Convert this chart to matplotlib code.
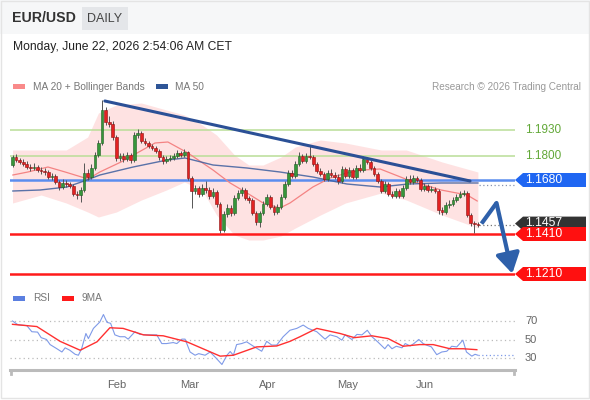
import matplotlib
matplotlib.use("Agg")
import matplotlib.pyplot as plt
import matplotlib.transforms as mtransforms
from matplotlib.patches import Rectangle, Polygon
import numpy as np

plt.rcParams['font.family'] = ['Liberation Sans', 'DejaVu Sans']

# ---------------- data ----------------
first_open = 1.1755
closes = [1.1795, 1.1780, 1.1770, 1.1760, 1.1745, 1.1740, 1.1745, 1.1730, 1.1725, 1.1720,
          1.1695, 1.1700, 1.1670, 1.1645, 1.1665, 1.1660, 1.1650, 1.1610, 1.1605, 1.1630,
          1.1715, 1.1695, 1.1740, 1.1805, 1.1865, 1.2030, 1.1970, 1.1960, 1.1895, 1.1790,
          1.1800, 1.1785, 1.1805, 1.1780, 1.1905, 1.1915, 1.1875, 1.1865, 1.1850, 1.1840,
          1.1825, 1.1795, 1.1775, 1.1785, 1.1790, 1.1800, 1.1815, 1.1805, 1.1820, 1.1690,
          1.1625, 1.1640, 1.1610, 1.1640, 1.1630, 1.1600, 1.1620, 1.1560, 1.1430, 1.1510,
          1.1540, 1.1515, 1.1590, 1.1615, 1.1630, 1.1590, 1.1580, 1.1515, 1.1470, 1.1515,
          1.1560, 1.1595, 1.1545, 1.1520, 1.1545, 1.1595, 1.1660, 1.1715, 1.1700, 1.1760,
          1.1800, 1.1775, 1.1800, 1.1795, 1.1760, 1.1725, 1.1710, 1.1685, 1.1715, 1.1705,
          1.1695, 1.1675, 1.1735, 1.1700, 1.1730, 1.1695, 1.1740, 1.1730, 1.1785, 1.1770,
          1.1740, 1.1710, 1.1675, 1.1625, 1.1660, 1.1610, 1.1600, 1.1625, 1.1600, 1.1640,
          1.1685, 1.1670, 1.1690, 1.1680, 1.1635, 1.1650, 1.1630, 1.1635, 1.1625, 1.1530,
          1.1520, 1.1555, 1.1560, 1.1580, 1.1595, 1.1610, 1.1615, 1.1505, 1.1465, 1.1460,
          1.1457]
highs = [1.1805, 1.1810, 1.1790, 1.1785, 1.1775, 1.1760, 1.1765, 1.1755, 1.1745, 1.1740,
         1.1730, 1.1715, 1.1710, 1.1680, 1.1685, 1.1680, 1.1670, 1.1660, 1.1625, 1.1645,
         1.1765, 1.1735, 1.1760, 1.1820, 1.1880, 1.2080, 1.2045, 1.2000, 1.1975, 1.1905,
         1.1815, 1.1815, 1.1820, 1.1815, 1.1920, 1.1935, 1.1925, 1.1890, 1.1875, 1.1860,
         1.1850, 1.1835, 1.1805, 1.1800, 1.1805, 1.1815, 1.1830, 1.1825, 1.1835, 1.1825,
         1.1700, 1.1655, 1.1650, 1.1660, 1.1675, 1.1645, 1.1640, 1.1630, 1.1570, 1.1525,
         1.1560, 1.1555, 1.1605, 1.1630, 1.1645, 1.1640, 1.1600, 1.1590, 1.1525, 1.1525,
         1.1575, 1.1610, 1.1605, 1.1555, 1.1560, 1.1610, 1.1675, 1.1730, 1.1730, 1.1775,
         1.1820, 1.1810, 1.1815, 1.1850, 1.1805, 1.1770, 1.1740, 1.1720, 1.1730, 1.1735,
         1.1720, 1.1710, 1.1750, 1.1745, 1.1745, 1.1740, 1.1755, 1.1760, 1.1800, 1.1795,
         1.1780, 1.1750, 1.1720, 1.1685, 1.1675, 1.1670, 1.1625, 1.1640, 1.1635, 1.1655,
         1.1700, 1.1705, 1.1705, 1.1700, 1.1690, 1.1665, 1.1660, 1.1650, 1.1645, 1.1635,
         1.1545, 1.1570, 1.1580, 1.1595, 1.1610, 1.1625, 1.1630, 1.1625, 1.1515, 1.1475,
         1.1470]
lows = [1.1745, 1.1770, 1.1760, 1.1750, 1.1735, 1.1725, 1.1730, 1.1720, 1.1710, 1.1705,
        1.1685, 1.1680, 1.1660, 1.1630, 1.1635, 1.1645, 1.1640, 1.1600, 1.1585, 1.1570,
        1.1620, 1.1680, 1.1685, 1.1730, 1.1795, 1.1855, 1.1955, 1.1945, 1.1880, 1.1775,
        1.1775, 1.1770, 1.1775, 1.1765, 1.1770, 1.1890, 1.1865, 1.1855, 1.1840, 1.1830,
        1.1815, 1.1780, 1.1760, 1.1765, 1.1775, 1.1780, 1.1790, 1.1795, 1.1795, 1.1680,
        1.1540, 1.1610, 1.1595, 1.1600, 1.1615, 1.1585, 1.1590, 1.1545, 1.1415, 1.1420,
        1.1495, 1.1500, 1.1505, 1.1580, 1.1600, 1.1580, 1.1565, 1.1505, 1.1455, 1.1445,
        1.1505, 1.1550, 1.1535, 1.1505, 1.1510, 1.1535, 1.1585, 1.1650, 1.1690, 1.1690,
        1.1750, 1.1765, 1.1765, 1.1785, 1.1750, 1.1715, 1.1700, 1.1675, 1.1675, 1.1695,
        1.1685, 1.1660, 1.1665, 1.1690, 1.1690, 1.1685, 1.1685, 1.1720, 1.1720, 1.1760,
        1.1730, 1.1700, 1.1665, 1.1615, 1.1615, 1.1600, 1.1590, 1.1590, 1.1590, 1.1590,
        1.1630, 1.1660, 1.1660, 1.1670, 1.1625, 1.1625, 1.1620, 1.1620, 1.1615, 1.1510,
        1.1505, 1.1510, 1.1540, 1.1550, 1.1570, 1.1590, 1.1600, 1.1495, 1.1450, 1.1415,
        1.1445]

# moving averages / bands (candle index, price)
ma20_idx = [0.1, 4.3, 9.9, 14.7, 21.1, 24.4, 30.3, 39.8, 43.4, 49, 56, 60.8, 65.5, 70, 74.7,
            77.5, 83.9, 88.7, 93.4, 97.9, 102.7, 110.5, 119.7, 127, 129.8]
ma20_vals = [1.1705, 1.1720, 1.1745, 1.1720, 1.1685, 1.1720, 1.1770, 1.1865, 1.1870, 1.1815,
             1.1730, 1.1665, 1.1615, 1.1565, 1.1540, 1.1565, 1.1645, 1.1690, 1.1715, 1.1730,
             1.1735, 1.1680, 1.1630, 1.1605, 1.1575]
ma50_idx = [0.1, 7.7, 15.2, 20.8, 24.4, 33.7, 43.2, 48.2, 56, 65.5, 74.7, 83.9, 93.4, 102.7,
            110.5, 119.7, 130]
ma50_vals = [1.1625, 1.1630, 1.1645, 1.1680, 1.1705, 1.1745, 1.1780, 1.1790, 1.1755, 1.1740,
             1.1720, 1.1695, 1.1660, 1.1645, 1.1660, 1.1665, 1.1665]
bb_idx = [0, 8, 15, 21, 24, 29, 36, 43, 48, 53, 57, 62, 66, 70, 75, 79, 86, 93, 103, 110, 120, 130]
bb_upper = [1.1830, 1.1830, 1.1830, 1.1895, 1.2015, 1.2055, 1.2065, 1.2030, 1.2005, 1.1955,
            1.1905, 1.1805, 1.1755, 1.1755, 1.1795, 1.1845, 1.1880, 1.1865, 1.1830, 1.1830,
            1.1770, 1.1720]
bb_lower = [1.1565, 1.1605, 1.1565, 1.1520, 1.1495, 1.1520, 1.1580, 1.1630, 1.1670, 1.1630,
            1.1505, 1.1405, 1.1380, 1.1380, 1.1400, 1.1440, 1.1505, 1.1565, 1.1615, 1.1580,
            1.1505, 1.1440]

trend_idx = [25.8, 127.8]
trend_vals = [1.2075, 1.1675]
forecast_idx = [131, 135.2, 139.6]
forecast_vals = [1.1462, 1.1565, 1.1212]

green_levels = [1.1930, 1.1800]
resistance_level = 1.1680
support_levels = [1.1410, 1.1210]
last_price = 1.1457
ma50_last = 1.1657

rsi_idx = [0, 1.5, 4, 5.4, 7, 8, 9.5, 10.5, 12.4, 13.8, 14.7, 16, 17.5, 18.4, 19.3, 20.5, 21.2,
           22.6, 24.4, 25.4, 26.4, 27.4, 28.6, 30, 31.4, 32.3, 34.2, 35.6, 37.5, 40.3, 41.7, 43,
           44.9, 45.9, 47.3, 48.2, 49.6, 51, 52, 53.8, 55.2, 56.6, 58.5, 59.9, 60.8, 61.7, 62.6,
           64, 65.4, 67.3, 69.6, 71, 72.4, 73.8, 75.6, 77.5, 79.4, 81.2, 82.6, 85, 87.3, 88.7,
           90.6, 92, 92.9, 94.8, 96.2, 97.6, 99.1, 100.4, 102, 104, 104.9, 106, 107.2, 108.8,
           109.7, 111.1, 112.1, 113.5, 114.7, 115.6, 117, 118.5, 119.9, 121.3, 122.7, 124.1,
           125.8, 126.8, 128.3, 129.2, 130]
rsi_vals = [70, 66, 65, 58.4, 58, 52, 50, 44.5, 40, 36.5, 41, 38.4, 34, 33, 40, 56.5, 51,
            62, 69, 77, 68.5, 67.5, 55, 53, 53, 50.4, 58.4, 55.5, 55, 55, 45.6, 45.6,
            46.7, 45.6, 50.4, 50.4, 36.5, 33, 34.7, 33, 36.5, 31, 23, 33, 37, 33, 44.5,
            45.6, 47.5, 42.7, 37.3, 48, 44, 44, 53, 60, 62, 65.6, 62, 58.4, 50.4, 55,
            53, 49.3, 55, 50, 55.5, 55, 60, 53, 47.5, 40, 44.5, 40, 42.7, 41,
            45.6, 43, 45.6, 50, 45.6, 44, 42, 33.6, 36.5, 37.3, 42.7, 42,
            49.3, 36.5, 32, 34, 33]
rsi_ma_idx = [0, 6.8, 13.3, 18.9, 23.6, 27.2, 30.9, 36.6, 42.1, 48.7, 58, 61.7, 68.2, 73.8,
              77.5, 80.3, 85, 91.5, 95.5, 100.4, 104.9, 109.1, 113.7, 117.5, 122.2, 125.9, 129.7]
rsi_ma_vals = [66.4, 64, 48, 38.4, 47.5, 62.7, 62, 55, 54, 47.5, 32, 33, 42, 43,
               48, 53, 62, 56.5, 52, 54, 51, 42.7, 44.5, 44.5, 40, 40, 39]
rsi_levels = [70, 50, 30]

month_labels = ['Feb', 'Mar', 'Apr', 'May', 'Jun']
month_idx = [29.2, 49.6, 71.4, 93.7, 115.2]

# ---------------- figure ----------------
W, H = 590, 400
fig = plt.figure(figsize=(W / 100, H / 100), dpi=100)
fig.patch.set_facecolor('white')


def fx(px):
    return px / W


def fy(py):
    return 1 - py / H


# header band and frame
fig.patches.append(Rectangle((0, fy(34)), 1, 34 / H, transform=fig.transFigure,
                             facecolor='#f6f7f8', edgecolor='none', zorder=0))
fig.patches.append(Rectangle((fx(1), fy(398)), fx(588), 397 / H, transform=fig.transFigure,
                             facecolor='none', edgecolor='#e4e4e4', lw=1, zorder=0))
fig.patches.append(Rectangle((fx(82), fy(30)), fx(46), 23 / H, transform=fig.transFigure,
                             facecolor='#e4e6e9', edgecolor='none', zorder=1))
fig.text(fx(12), fy(18.5), 'EUR/USD', fontsize=10.2, fontweight='bold', color='#333333',
         va='center', ha='left')
fig.text(fx(105), fy(18.5), 'DAILY', fontsize=9, color='#444444', va='center', ha='center')
fig.text(fx(13), fy(47), 'Monday, June 22, 2026 2:54:06 AM CET', fontsize=8.7,
         color='#222222', va='center', ha='left')

# legend row
fig.patches.append(Rectangle((fx(13), fy(89)), fx(12), 5 / H, transform=fig.transFigure,
                             facecolor='#f98a8a', edgecolor='none'))
fig.text(fx(33), fy(86.5), 'MA 20 + Bollinger Bands', fontsize=7.3, color='#777777', va='center')
fig.patches.append(Rectangle((fx(156), fy(89)), fx(12), 5 / H, transform=fig.transFigure,
                             facecolor='#2e5597', edgecolor='none'))
fig.text(fx(175), fy(86.5), 'MA 50', fontsize=7.3, color='#777777', va='center')
fig.text(fx(581), fy(86.5), 'Research © 2026 Trading Central', fontsize=7.2,
         color='#999999', va='center', ha='right')

# ---------------- price axes ----------------
ax = fig.add_axes([fx(10), fy(283), fx(505), 188 / H])
ax.set_xlim(-0.7, 140.36)
ax.set_ylim(1.1165, 1.2105)
ax.axis('off')

n = len(closes)
xs = np.arange(n)
opens = np.array([first_open] + closes[:-1])
cl = np.array(closes)

ax.fill_between(bb_idx, bb_lower, bb_upper, color='#fee2e2', lw=0, zorder=1)
ax.plot(ma20_idx, ma20_vals, color='#f48383', lw=0.9, zorder=2)
ax.plot(ma50_idx, ma50_vals, color='#3d5e9e', lw=1.0, alpha=0.85, zorder=2)

for lvl in green_levels:
    ax.axhline(lvl, color='#b9de97', lw=1.1, zorder=1.5)
ax.axhline(resistance_level, color='#5b8def', lw=1.8, zorder=1.5)
for lvl in support_levels:
    ax.axhline(lvl, color='#ff1a1a', lw=1.8, zorder=1.5)

# candles
up = cl >= opens
ax.vlines(xs, lows, highs, color='#555555', lw=0.7, zorder=3)
body_h = np.maximum(np.abs(cl - opens), 0.00035)
body_b = np.minimum(cl, opens)
ax.bar(xs[up], body_h[up], bottom=body_b[up], width=0.75, color='#36963a',
       edgecolor='#1f5e22', lw=0.4, zorder=4)
ax.bar(xs[~up], body_h[~up], bottom=body_b[~up], width=0.75, color='#e32222',
       edgecolor='#8a1010', lw=0.4, zorder=4)

# trend line & forecast arrow
ax.plot(trend_idx, trend_vals, color='#2b5096', lw=2.2, solid_capstyle='round', zorder=5)
ax.plot(forecast_idx[:2], forecast_vals[:2], color='#2e60aa', lw=3, solid_capstyle='butt',
        zorder=6)
ax.annotate('', xy=(forecast_idx[2], forecast_vals[2]),
            xytext=(forecast_idx[1], forecast_vals[1]),
            arrowprops=dict(arrowstyle='-|>,head_length=1.0,head_width=0.6', color='#2e60aa',
                            lw=3, shrinkA=0, shrinkB=0, mutation_scale=12), zorder=6)

# dotted extensions
ax.plot([130.4, 140.36], [last_price, last_price], color='#777777', lw=0.9,
        linestyle=(0, (1, 2)), zorder=2)
ax.plot([130.4, 140.36], [ma50_last, ma50_last], color='#8894b0', lw=0.9,
        linestyle=(0, (1, 2)), zorder=2)

# right labels
blend = mtransforms.blended_transform_factory(fig.transFigure, ax.transData)
hh = 0.0035


def price_box(price, text, color, text_dy=0.0):
    pts = [(fx(515), price), (fx(523), price + hh), (fx(586), price + hh),
           (fx(586), price - hh), (fx(523), price - hh)]
    poly = Polygon(pts, closed=True, transform=blend, facecolor=color, edgecolor='none',
                   clip_on=False, zorder=10)
    fig.patches.append(poly)
    fig.text(fx(525), price + text_dy, text, transform=blend, color='white', fontsize=8.8,
             ha='left', va='center', zorder=11)


for lvl in green_levels:
    fig.text(fx(525), lvl, f'{lvl:.4f}', transform=blend, color='#62a838', fontsize=8.5,
             ha='left', va='center')
price_box(resistance_level, f'{resistance_level:.4f}', '#1f66f2')
price_box(last_price + 0.0005, f'{last_price:.4f}', '#333333', text_dy=0.0003)
price_box(support_levels[0], f'{support_levels[0]:.4f}', '#ff1010')
price_box(support_levels[1], f'{support_levels[1]:.4f}', '#ff1010')

# ---------------- RSI axes ----------------
rax = fig.add_axes([fx(10), fy(370), fx(505), 60 / H])
rax.set_xlim(-0.7, 140.36)
rax.set_ylim(17.03, 81.89)
for s in ['top', 'left', 'right']:
    rax.spines[s].set_visible(False)
rax.spines['bottom'].set_color('#bbbbbb')
rax.spines['bottom'].set_linewidth(2.2)
rax.set_yticks([])
rax.set_xticks(month_idx, month_labels)
rax.tick_params(axis='x', length=0, pad=7, labelsize=8, labelcolor='#666666')
rax.patch.set_alpha(0)

rblend = mtransforms.blended_transform_factory(fig.transFigure, rax.transData)
for lvl in rsi_levels:
    rax.axhline(lvl, color='#bbbbbb', lw=0.9, linestyle=(0, (1, 2.5)), zorder=1)
    fig.text(fx(525), lvl, str(lvl), transform=rblend,
             fontsize=8, color='#666666', ha='left', va='center')
rax.plot(rsi_idx, rsi_vals, color='#7f9ae8', lw=0.8, zorder=3)
rax.plot(rsi_ma_idx, rsi_ma_vals, color='#ff3030', lw=1.0, zorder=4)
rax.plot([130, 140.36], [rsi_vals[-1], rsi_vals[-1]], color='#7f9ae8', lw=0.9,
         linestyle=(0, (1, 2)), zorder=3)
# end ticks of the axis line
for xe in (-0.4, 140.2):
    rax.plot([xe, xe], [17.03, 12.5], color='#bbbbbb', lw=2, clip_on=False)

# RSI legend
fig.patches.append(Rectangle((fx(13), fy(300.5)), fx(12), 5 / H, transform=fig.transFigure,
                             facecolor='#5b7fe0', edgecolor='none'))
fig.text(fx(33), fy(298), 'RSI', fontsize=7.3, color='#777777', va='center')
fig.patches.append(Rectangle((fx(62), fy(300.5)), fx(12), 5 / H, transform=fig.transFigure,
                             facecolor='#ff1a1a', edgecolor='none'))
fig.text(fx(82), fy(298), '9MA', fontsize=7.3, color='#777777', va='center')

fig.savefig('out.png', dpi=100)
